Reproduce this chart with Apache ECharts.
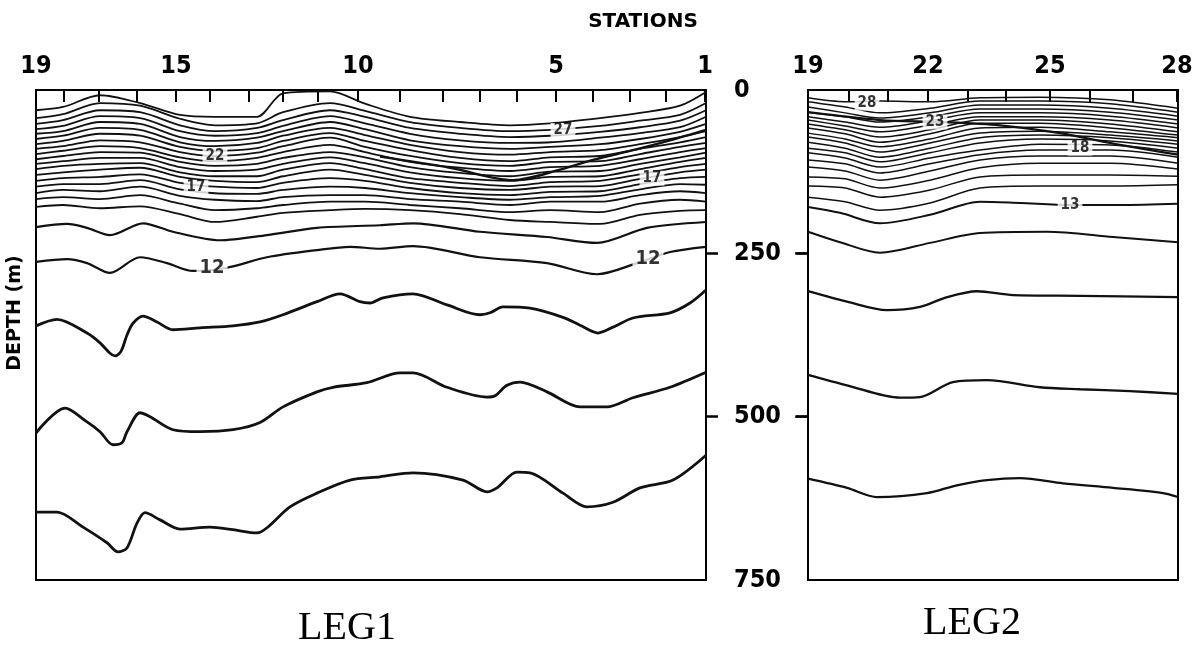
<!DOCTYPE html>
<html>
<head>
<meta charset="utf-8">
<script src="https://cdn.jsdelivr.net/npm/echarts@6.0.0/dist/echarts.min.js"></script>
<style>
    html, body { margin: 0; padding: 0; background: #fff; }
    #chart { width: 1198px; height: 648px; }
</style>
</head>
<body>
<div id="chart"></div>
<script>
// 站位：沿断面距离（km，自 19 号站起算）
const leg1Stations = [19, 18, 17, 16, 15, 14, 13, 12, 11, 10, 9, 8, 7, 6, 5, 4, 3, 2, 1];
const leg1Dist = [0, 28, 63, 101, 140, 174, 213, 247, 282, 322, 364, 407, 444, 481, 520, 557, 594, 630, 669];
const leg1Labeled = [19, 15, 10, 5, 1];

const leg2Stations = [19, 20, 21, 22, 23, 24, 25, 26, 27, 28];
const leg2Dist = [0, 41, 80, 120, 160, 198, 242, 282, 325, 369];
const leg2Labeled = [19, 22, 25, 28];

const depthLabels = [0, 250, 500, 750];
const depthTicks = [250, 500];

// LEG1 上层等温线：各列距离处的深度 (m)
const leg1Cols = [0, 27, 64, 104, 144, 179, 221, 247, 294, 329, 374, 424, 474, 514, 564, 604, 644, 670];
const leg1Upper = [
    [31, 26, 8, 20, 38, 41, 41, 5, 2, 21, 41, 49, 54, 51, 43, 35, 24, 3],
    [43, 37, 20, 24, 44, 54, 51, 34, 20, 32, 49, 58, 63, 61, 55, 47, 38, 20],
    [52, 46, 31, 34, 54, 63, 58, 46, 31, 41, 58, 67, 72, 70, 64, 57, 47, 31],
    [60, 55, 40, 43, 63, 70, 66, 55, 40, 51, 67, 77, 81, 80, 73, 66, 57, 41],
    [67, 63, 49, 52, 72, 78, 73, 63, 49, 60, 77, 86, 90, 87, 83, 75, 64, 52],
    [75, 70, 58, 61, 80, 86, 81, 70, 58, 69, 84, 95, 99, 95, 92, 83, 72, 63],
    [83, 78, 67, 70, 87, 93, 89, 78, 66, 78, 92, 104, 109, 103, 101, 90, 80, 72],
    [90, 86, 77, 80, 95, 101, 96, 86, 73, 87, 101, 112, 116, 110, 109, 98, 87, 81],
    [98, 93, 86, 89, 103, 109, 104, 95, 84, 95, 110, 119, 124, 118, 116, 106, 95, 89],
    [106, 101, 95, 96, 110, 116, 113, 104, 95, 103, 118, 127, 132, 125, 124, 113, 103, 96],
    [113, 109, 104, 104, 118, 124, 122, 113, 103, 112, 126, 135, 139, 133, 132, 121, 110, 104],
    [121, 116, 113, 112, 126, 132, 132, 122, 112, 121, 135, 142, 147, 141, 139, 129, 118, 113],
    [130, 126, 122, 119, 133, 139, 141, 132, 122, 130, 142, 150, 153, 148, 147, 136, 126, 122],
    [139, 135, 133, 129, 142, 148, 150, 142, 135, 139, 150, 158, 161, 156, 155, 144, 135, 133],
    [148, 144, 144, 138, 152, 158, 159, 153, 148, 150, 158, 164, 168, 164, 162, 152, 144, 145],
    [158, 153, 155, 148, 162, 168, 170, 164, 161, 161, 167, 171, 176, 171, 171, 161, 155, 158],
    [167, 164, 167, 161, 174, 184, 181, 176, 171, 171, 176, 181, 187, 184, 187, 174, 168, 171],
    [179, 176, 181, 178, 190, 202, 194, 188, 184, 182, 184, 190, 199, 202, 205, 191, 185, 184]
];

// LEG1 下层等温线 [距离, 深度]
const leg1T13 = [[0, 210], [31, 205], [51, 211], [74, 222], [107, 204], [137, 217], [184, 230], [231, 222], [281, 211], [344, 207], [377, 204], [444, 217], [511, 225], [561, 234], [611, 211], [670, 202]];
const leg1T12 = [[0, 263], [31, 259], [51, 265], [74, 280], [104, 256], [131, 265], [157, 277], [191, 272], [231, 256], [281, 245], [314, 240], [344, 243], [377, 239], [444, 256], [511, 265], [561, 282], [601, 265], [634, 248], [670, 240]];
const leg1Deep1 = [[0, 361], [21, 351], [51, 372], [64, 387], [74, 403], [79, 407], [85, 400], [91, 375], [97, 357], [107, 346], [121, 355], [137, 367], [164, 364], [197, 361], [224, 355], [247, 344], [281, 324], [304, 312], [324, 324], [334, 326], [347, 318], [377, 312], [411, 329], [444, 344], [454, 341], [467, 332], [494, 334], [527, 348], [544, 360], [562, 372], [577, 363], [597, 349], [634, 341], [654, 326], [670, 306]];
const leg1Deep2 = [[0, 525], [29, 487], [51, 508], [64, 523], [77, 543], [86, 540], [91, 523], [104, 494], [114, 500], [137, 520], [164, 523], [197, 520], [224, 509], [247, 485], [281, 462], [297, 455], [331, 448], [364, 433], [377, 433], [411, 455], [451, 470], [459, 468], [471, 452], [484, 447], [511, 462], [544, 485], [571, 485], [597, 471], [634, 455], [670, 432]];
const leg1Deep3 = [[0, 646], [21, 646], [47, 669], [71, 693], [82, 707], [91, 701], [101, 663], [109, 647], [124, 658], [144, 672], [174, 669], [197, 673], [221, 678], [231, 670], [254, 638], [281, 617], [314, 597], [344, 592], [377, 586], [427, 597], [451, 615], [461, 609], [481, 585], [494, 586], [527, 617], [551, 638], [577, 631], [604, 609], [637, 597], [670, 559]];
// 斜穿等温线的粗线
const leg1Cross = [[344, 102], [414, 119], [477, 138], [524, 122], [557, 107], [597, 92], [634, 77], [670, 61]];

// LEG2 上层等温线
const leg2Cols = [0, 37, 72, 122, 172, 232, 302, 370];
const leg2Upper = [
    [12, 18, 17, 18, 12, 11, 15, 28],
    [18, 26, 35, 28, 17, 17, 21, 34],
    [26, 35, 43, 35, 23, 23, 28, 40],
    [34, 41, 49, 41, 29, 29, 34, 46],
    [41, 49, 57, 47, 35, 35, 40, 52],
    [46, 55, 64, 54, 41, 41, 46, 58],
    [52, 61, 72, 61, 46, 46, 52, 64],
    [58, 67, 80, 67, 51, 51, 58, 69],
    [66, 75, 87, 75, 58, 57, 64, 73],
    [72, 81, 95, 81, 66, 63, 69, 78],
    [80, 89, 103, 89, 73, 69, 73, 83],
    [89, 96, 110, 96, 81, 75, 78, 89],
    [96, 104, 118, 104, 92, 83, 84, 95],
    [107, 113, 127, 113, 99, 92, 92, 103],
    [118, 124, 138, 124, 107, 101, 101, 112],
    [133, 136, 150, 138, 119, 112, 112, 121],
    [147, 150, 164, 153, 133, 130, 130, 132],
    [164, 171, 184, 173, 150, 147, 147, 145]
];

// LEG2 下层等温线
const leg2T13 = [[0, 179], [32, 188], [72, 204], [122, 191], [172, 171], [212, 173], [262, 176], [312, 176], [370, 174]];
const leg2T12 = [[0, 217], [32, 233], [72, 249], [122, 234], [172, 219], [239, 217], [305, 225], [370, 233]];
const leg2Deep1 = [[0, 308], [39, 324], [79, 337], [112, 332], [139, 317], [169, 308], [205, 314], [272, 315], [370, 317]];
const leg2Deep2 = [[0, 436], [39, 452], [92, 471], [112, 470], [145, 447], [179, 444], [232, 455], [272, 458], [322, 461], [370, 465]];
const leg2Deep3 = [[0, 595], [39, 609], [69, 623], [119, 617], [149, 605], [179, 597], [212, 594], [255, 602], [305, 609], [355, 617], [370, 623]];
const leg2Cross = [[0, 34], [72, 46], [132, 49], [192, 54], [252, 66], [312, 84], [370, 99]];

// 等温线标注 [距离, 深度, 温度]
const leg1Labels = [[179, 101, '22'], [160, 149, '17'], [527, 62, '27'], [616, 135, '17']];
const leg1BigLabels = [[176, 272, '12'], [612, 258, '12']];
const leg2Labels = [[59, 20, '28'], [127, 49, '23'], [272, 89, '18'], [262, 176, '13']];

const NARROW = '"Liberation Sans Narrow", "DejaVu Sans Condensed", sans-serif';
const INK = '#111';

let chart = echarts.init(document.getElementById('chart'));

/*
 * @method columnLine: 列数据转为 [距离, 深度] 点
 */
function columnLine(cols, depths) {
    return cols.map((d, i) => [d, depths[i]]);
}

/*
 * @method contour: 一条等温线
 */
function contour(points, idx, width) {
    return {
        type: 'line',
        xAxisIndex: idx,
        yAxisIndex: idx,
        data: points,
        smooth: 0.3,
        symbol: 'none',
        silent: true,
        lineStyle: { color: INK, width: width },
        z: 3
    };
}

/*
 * @method tags: 等温线数值标注
 */
function tags(list, idx, size) {
    return {
        type: 'scatter',
        xAxisIndex: idx,
        yAxisIndex: idx,
        symbolSize: 0,
        silent: true,
        z: 5,
        data: list.map(v => ({ value: [v[0], v[1]], name: v[2] })),
        label: {
            show: true,
            position: 'inside',
            formatter: p => p.name,
            color: '#000',
            fontFamily: NARROW,
            fontWeight: 'bold',
            fontSize: size,
            backgroundColor: '#fff',
            padding: [0, 3]
        }
    };
}

/*
 * @method stationAxis: 顶部站位轴
 */
function stationAxis(gridIndex, dist, stations, labeled, max) {
    return {
        type: 'value',
        gridIndex: gridIndex,
        position: 'top',
        min: 0,
        max: max,
        axisLine: { show: true, onZero: false, lineStyle: { color: '#000', width: 2 } },
        axisTick: { show: true, inside: true, length: 12, customValues: dist, lineStyle: { color: '#000', width: 2 } },
        axisLabel: {
            show: true,
            customValues: labeled.map(s => dist[stations.indexOf(s)]),
            formatter: v => String(stations[dist.indexOf(v)]),
            margin: 11,
            color: '#000',
            fontFamily: NARROW,
            fontWeight: 'bold',
            fontSize: 25
        },
        splitLine: { show: false }
    };
}

/*
 * @method depthAxis: 深度轴
 */
function depthAxis(gridIndex, position, showLabel) {
    return {
        type: 'value',
        gridIndex: gridIndex,
        position: position,
        inverse: true,
        min: 0,
        max: 750,
        axisLine: { show: true, onZero: false, lineStyle: { color: '#000', width: 2 } },
        axisTick: { show: true, length: 12, customValues: depthTicks, lineStyle: { color: '#000', width: 2.5 } },
        axisLabel: {
            show: showLabel,
            customValues: depthLabels,
            margin: 28,
            color: '#000',
            fontFamily: NARROW,
            fontWeight: 'bold',
            fontSize: 25
        },
        splitLine: { show: false }
    };
}

let series = [];
leg1Upper.forEach(row => series.push(contour(columnLine(leg1Cols, row), 0, 1.8)));
[leg1T13, leg1T12].forEach(l => series.push(contour(l, 0, 2.2)));
[leg1Deep1, leg1Deep2, leg1Deep3].forEach(l => series.push(contour(l, 0, 2.8)));
series.push(contour(leg1Cross, 0, 2.4));
leg2Upper.forEach(row => series.push(contour(columnLine(leg2Cols, row), 1, 1.5)));
[leg2T13, leg2T12].forEach(l => series.push(contour(l, 1, 2)));
[leg2Deep1, leg2Deep2, leg2Deep3].forEach(l => series.push(contour(l, 1, 2.3)));
series.push(contour(leg2Cross, 1, 2.2));
series.push(tags(leg1Labels, 0, 15));
series.push(tags(leg1BigLabels, 0, 20));
series.push(tags(leg2Labels, 1, 15));
// LEG2 左边框外侧的深度刻度
series.push({
    type: 'scatter',
    xAxisIndex: 1,
    yAxisIndex: 1,
    clip: false,
    silent: true,
    symbol: 'rect',
    symbolSize: [12, 2.5],
    symbolOffset: [-7, 0],
    itemStyle: { color: '#000' },
    data: depthTicks.map(d => [0, d]),
    z: 6
});

let frame = { show: true, borderColor: '#000', borderWidth: 2, backgroundColor: 'transparent' };

chart.setOption({
    animation: false,
    backgroundColor: '#fff',
    grid: [
        Object.assign({ left: 36, top: 90, width: 670, height: 490 }, frame),
        Object.assign({ left: 808, top: 90, width: 370, height: 490 }, frame)
    ],
    xAxis: [
        stationAxis(0, leg1Dist, leg1Stations, leg1Labeled, 670),
        stationAxis(1, leg2Dist, leg2Stations, leg2Labeled, 370)
    ],
    yAxis: [
        depthAxis(0, 'right', true),
        depthAxis(1, 'left', false)
    ],
    graphic: [
        { type: 'text', x: 643, y: 22, style: { text: 'STATIONS', font: 'bold 20px "DejaVu Sans"', fill: '#000', align: 'center', verticalAlign: 'middle' } },
        { type: 'text', x: 15, y: 313, rotation: Math.PI / 2, style: { text: 'DEPTH (m)', font: 'bold 19px "DejaVu Sans"', fill: '#000', align: 'center', verticalAlign: 'middle' } },
        { type: 'text', x: 347, y: 628, style: { text: 'LEG1', font: '40px "Liberation Serif"', fill: '#000', align: 'center', verticalAlign: 'middle' } },
        { type: 'text', x: 972, y: 623, style: { text: 'LEG2', font: '40px "Liberation Serif"', fill: '#000', align: 'center', verticalAlign: 'middle' } }
    ],
    series: series
});
</script>
</body>
</html>
